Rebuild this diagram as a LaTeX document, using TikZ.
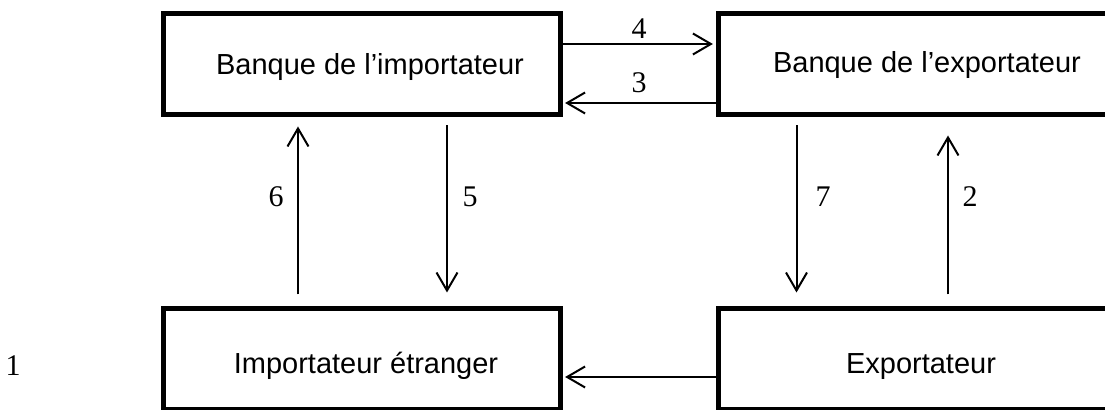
\documentclass[tikz,border=0pt]{standalone}
\usepackage{fontspec}
\setmainfont{Liberation Serif}
\newfontfamily\arial{Liberation Sans}
\usetikzlibrary{arrows.meta}

\begin{document}
\begin{tikzpicture}[x=0.5pt,y=-0.5pt,
    party/.style={draw, line width=2.5pt, inner sep=0pt, minimum height=50.5pt},
    txt/.style={font=\arial\fontsize{14.5}{17}\selectfont, text height=10.4pt, text depth=0pt, inner sep=0pt},
    flow/.style={line width=1pt, -{Straight Barb[length=9pt,width=10.5pt]}},
    num/.style={font=\fontsize{15}{18}\selectfont, inner sep=0pt}]
  \clip (0,0) rectangle (1105,410);

  % the four parties
  \node (bimp) [party, minimum width=198.5pt,
    label={[txt, xshift=4.25pt]center:Banque de l’importateur}] at (361.5,64) {};
  \node (bexp) [party, minimum width=209pt,
    label={[txt, yshift=1pt]center:Banque de l’exportateur}] at (927,64) {};
  \node (imp) [party, minimum width=198.5pt,
    label={[txt, xshift=2.25pt, yshift=-2pt]center:Importateur étranger}] at (361.5,359.5) {};
  \node (exp) [party, minimum width=209pt,
    label={[txt, xshift=-3pt, yshift=-1.75pt]center:Exportateur}] at (927,359.5) {};

  \node (n1) [num] at (13,366) {1};

  % between the banks
  \draw [flow, shorten >=1.3pt] ([yshift=10pt]bimp.east) -- ([yshift=10pt]bexp.west)
    node (n4) [num, midway, yshift=7.5pt] {4};
  \draw [flow, shorten >=1.3pt] ([yshift=-19.5pt]bexp.west) -- ([yshift=-19.5pt]bimp.east)
    node (n3) [num, midway, yshift=10pt] {3};

  % exporter to importer
  \draw [flow, shorten >=1.3pt] ([yshift=-8.75pt]exp.west) -- ([yshift=-8.75pt]imp.east);

  % importer side
  \draw [flow, shorten <=6pt, shorten >=4.75pt] ([xshift=-31.75pt]imp.north) -- ([xshift=-31.75pt]bimp.south)
    node (n6) [num, pos=0.58, xshift=-11pt] {6};
  \draw [flow, shorten <=4.25pt, shorten >=7pt] ([xshift=42.75pt]bimp.south) -- ([xshift=42.75pt]imp.north)
    node (n5) [num, pos=0.42, xshift=11.5pt] {5};

  % exporter side
  \draw [flow, shorten <=4.25pt, shorten >=7pt] ([xshift=-65.25pt]bexp.south) -- ([xshift=-65.25pt]exp.north)
    node (n7) [num, pos=0.42, xshift=13.25pt] {7};
  \draw [flow, shorten <=6pt, shorten >=9.25pt] ([xshift=10.5pt]exp.north) -- ([xshift=10.5pt]bexp.south)
    node (n2) [num, pos=0.58, xshift=11pt] {2};
\end{tikzpicture}
\end{document}
